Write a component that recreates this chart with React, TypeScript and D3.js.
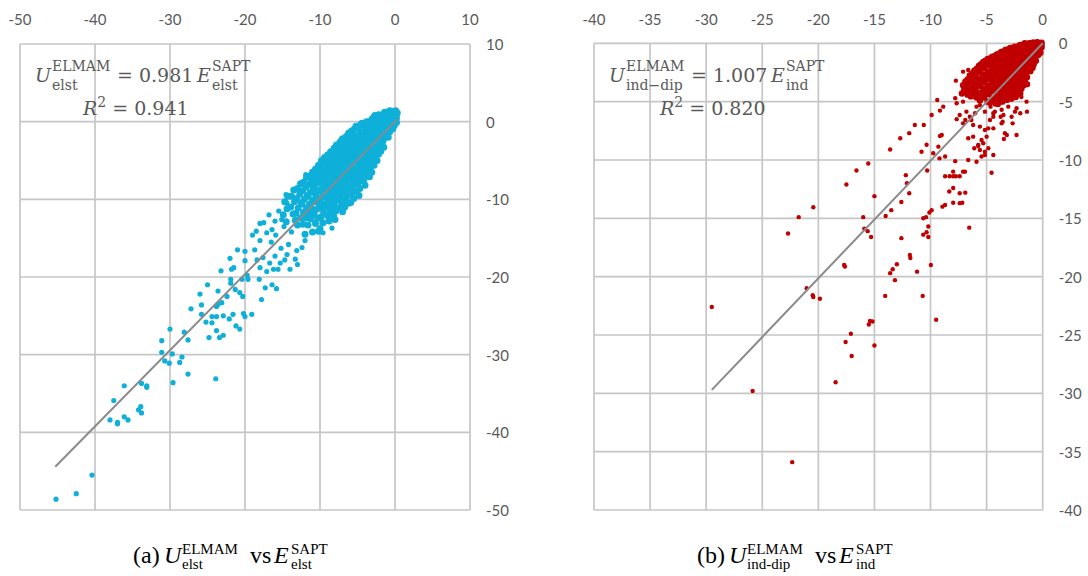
import React from 'react';
import * as d3 from 'd3';

// (a) electrostatics: E_SAPT (x) vs U_ELMAM (y), dense core
const elstCore: [number, number][] = [
  [0.3,1.1],[0.1,1.4],[0.2,0.5],[-0.1,0.9],[-0.3,1.3],[0,0.1],[-0.2,0.4],[-0.4,-0.3],[-0.5,0.8],[-0.1,-0.5],[0.2,-0.1],[-0.3,-0.9],
  [-0.7,1.4],[-0.9,1.0],[-0.6,0.5],[-1.1,0.3],[-0.8,-0.1],[-0.6,-0.6],[-1.0,-0.8],[-0.7,-1.3],[-1.2,-1.5],[-0.9,-2.0],[-1.1,1.2],[-0.8,0.8],[-1.2,-0.3],
  [-1.4,1.2],[-1.7,0.9],[-1.5,0.4],[-1.9,0.2],[-1.3,-0.2],[-1.6,-0.5],[-1.9,-0.9],[-1.4,-1.1],[-1.7,-1.6],[-1.3,-2.0],[-2.0,-2.0],[-1.6,-2.5],[-1.8,-3.0],[-1.5,-3.3],[-1.9,-3.8],[-2.0,0.8],[-1.8,-0.2],
  [-2.2,0.9],[-2.5,0.5],[-2.7,0.8],[-2.3,0.0],[-2.6,-0.4],[-2.2,-0.8],[-2.8,-1.0],[-2.4,-1.4],[-2.7,-1.9],[-2.2,-2.2],[-2.5,-2.6],[-2.8,-3.0],[-2.3,-3.3],[-2.6,-3.8],[-2.2,-4.2],[-2.7,-4.5],[-2.4,-5.0],[-2.8,-5.6],[-2.5,-0.1],
  [-3.0,0.4],[-3.3,0.1],[-3.5,-0.3],[-2.9,-0.5],[-3.2,-0.9],[-3.6,-1.1],[-3.0,-1.5],[-3.4,-1.8],[-3.1,-2.3],[-3.5,-2.6],[-2.9,-2.8],[-3.3,-3.2],[-3.6,-3.6],[-3.0,-3.9],[-3.4,-4.3],[-3.1,-4.8],[-3.5,-5.2],[-2.9,-5.4],[-3.3,-5.9],[-3.6,-6.4],[-3.1,-6.5],[-3.4,-7.1],
  [-3.8,0.0],[-4.1,-0.4],[-4.4,-0.2],[-3.7,-0.8],[-4.0,-1.2],[-4.3,-1.6],[-3.8,-1.9],[-4.2,-2.3],[-3.9,-2.7],[-4.4,-3.0],[-3.7,-3.3],[-4.1,-3.6],[-4.4,-4.1],[-3.8,-4.4],[-4.2,-4.8],[-3.9,-5.3],[-4.3,-5.7],[-3.7,-6.0],[-4.1,-6.4],[-4.4,-6.9],[-3.8,-7.1],[-4.2,-7.6],[-4.0,-8.2],
  [-4.6,-0.4],[-4.9,-0.8],[-5.2,-0.6],[-4.5,-1.3],[-4.8,-1.7],[-5.1,-2.1],[-4.6,-2.4],[-5.0,-2.8],[-4.7,-3.2],[-5.2,-3.5],[-4.5,-3.8],[-4.9,-4.2],[-5.2,-4.6],[-4.6,-4.9],[-5.0,-5.3],[-4.7,-5.8],[-5.1,-6.2],[-4.5,-6.5],[-4.9,-6.9],[-5.2,-7.3],[-4.6,-7.6],[-5.0,-8.1],[-4.7,-8.6],[-5.1,-9.0],[-4.8,-9.5],
  [-5.4,-0.9],[-5.8,-1.2],[-5.5,-1.7],[-5.9,-2.1],[-5.3,-2.4],[-5.7,-2.7],[-6.0,-3.1],[-5.4,-3.4],[-5.8,-3.8],[-5.5,-4.2],[-5.9,-4.6],[-5.3,-4.9],[-5.7,-5.3],[-6.0,-5.8],[-5.4,-6.1],[-5.8,-6.5],[-5.5,-7.0],[-5.9,-7.4],[-5.3,-7.7],[-5.7,-8.2],[-6.0,-8.6],[-5.4,-8.9],[-5.8,-9.4],[-5.5,-9.9],[-5.9,-10.4],
  [-6.2,-1.5],[-6.5,-1.9],[-6.8,-2.3],[-6.3,-2.6],[-6.6,-3.0],[-6.1,-3.4],[-6.7,-3.7],[-6.4,-4.1],[-6.8,-4.5],[-6.2,-4.8],[-6.5,-5.2],[-6.8,-5.6],[-6.3,-6.0],[-6.6,-6.4],[-6.1,-6.8],[-6.7,-7.1],[-6.4,-7.5],[-6.8,-7.9],[-6.2,-8.3],[-6.5,-8.7],[-6.8,-9.1],[-6.3,-9.5],[-6.6,-10.0],[-6.2,-10.5],[-6.7,-11.0],
  [-7.0,-2.2],[-7.3,-2.6],[-7.6,-3.0],[-7.1,-3.4],[-7.4,-3.8],[-6.9,-4.2],[-7.5,-4.5],[-7.2,-4.9],[-7.6,-5.3],[-7.0,-5.6],[-7.3,-6.0],[-7.6,-6.4],[-7.1,-6.8],[-7.4,-7.2],[-6.9,-7.6],[-7.5,-7.9],[-7.2,-8.3],[-7.6,-8.8],[-7.0,-9.1],[-7.3,-9.6],[-7.5,-10.1],[-7.1,-10.5],[-7.4,-11.1],[-7.0,-11.6],
  [-7.8,-3.0],[-8.1,-3.4],[-8.4,-3.8],[-7.9,-4.2],[-8.2,-4.6],[-7.7,-5.0],[-8.3,-5.4],[-8.0,-5.8],[-8.4,-6.2],[-7.8,-6.5],[-8.1,-6.9],[-8.4,-7.3],[-7.9,-7.7],[-8.2,-8.1],[-7.7,-8.5],[-8.3,-8.9],[-8.0,-9.3],[-8.4,-9.8],[-7.8,-10.1],[-8.1,-10.6],[-8.3,-11.1],[-7.9,-11.5],[-8.2,-12.1],[-8.0,-12.6],
  [-8.6,-3.9],[-9.0,-4.3],[-8.7,-4.8],[-9.1,-5.2],[-8.5,-5.6],[-8.9,-6.0],[-9.2,-6.4],[-8.6,-6.8],[-9.0,-7.2],[-8.7,-7.6],[-9.1,-8.0],[-8.5,-8.4],[-8.9,-8.8],[-9.2,-9.2],[-8.6,-9.6],[-9.0,-10.0],[-8.7,-10.5],[-9.1,-11.0],[-8.6,-11.5],[-9.0,-12.1],[-8.8,-12.8],
  [-9.4,-4.6],[-9.8,-5.0],[-9.5,-5.5],[-9.9,-6.0],[-9.3,-6.4],[-9.7,-6.8],[-10.0,-7.2],[-9.4,-7.6],[-9.8,-8.0],[-9.5,-8.5],[-9.9,-8.9],[-9.3,-9.3],[-9.7,-9.7],[-10.0,-10.2],[-9.4,-10.6],[-9.8,-11.1],[-9.5,-11.7],[-9.9,-12.3],[-9.6,-13.0],[-10.0,-13.8],
  [-10.2,-5.6],[-10.6,-6.1],[-10.3,-6.6],[-10.7,-7.1],[-10.1,-7.5],[-10.5,-7.9],[-10.8,-8.4],[-10.2,-8.8],[-10.6,-9.3],[-10.3,-9.8],[-10.7,-10.3],[-10.1,-10.8],[-10.5,-11.3],[-10.8,-11.9],[-10.3,-12.4],[-10.6,-13.1],[-10.2,-14.1],
  [-11.0,-6.5],[-11.4,-7.0],[-11.1,-7.6],[-11.5,-8.1],[-10.9,-8.6],[-11.3,-9.1],[-11.6,-9.6],[-11.0,-10.1],[-11.4,-10.6],[-11.1,-11.2],[-11.5,-11.8],[-11.2,-12.5],[-11.6,-13.3],[-11.0,-14.2],
  [-11.8,-7.2],[-12.2,-7.8],[-11.9,-8.4],[-12.3,-8.9],[-11.7,-9.5],[-12.1,-10.0],[-12.4,-10.6],[-11.8,-11.1],[-12.2,-11.7],[-11.9,-12.4],[-12.3,-13.2],[-12.0,-14.5],
  [-12.6,-8.0],[-13.0,-8.6],[-12.7,-9.3],[-13.1,-9.9],[-12.5,-10.5],[-12.9,-11.1],[-13.2,-11.8],[-12.6,-12.4],[-13.0,-13.3],
  [-13.5,-8.8],[-13.8,-9.6],[-13.4,-10.3],[-13.9,-11.0],[-13.6,-11.9],[-13.3,-12.7],
  [-14.3,-9.6],[-14.7,-10.3],[-14.4,-11.2],[-14.9,-12.0],[-14.5,-12.9],
];

const elstOuter: [number, number][] = [
  [-14.53,-9.4],[-13.33,-8.75],[-18,-13.1],[-19.0,-14.6],[-18.5,-14.1],[-18,-15.3],[-17.1,-14.3],[-16.4,-13.9],[-21.0,-16.5],[-20,-16.7],
  [-22,-17.6],[-20,-17.9],[-18.7,-16.5],[-18.4,-17.8],[-17.6,-17.5],[-16.7,-18.2],[-16,-17.3],[-15.3,-18.2],[-14.7,-17.8],[-18,-18.8],
  [-17.1,-19.3],[-16.2,-19.0],[-15.6,-19.0],[-14,-19.0],[-13,-18.4],[-13.3,-17.7],[-14.4,-17.1],[-23.2,-19.2],[-21.8,-19.0],[-21.5,-18.8],
  [-21.9,-20.3],[-21.9,-20.8],[-20.4,-20.3],[-19.7,-19.8],[-19.6,-20.3],[-18.1,-20.3],[-17.3,-21.4],[-16.4,-21.0],[-15.8,-21.5],[-21.3,-21.6],
  [-20.7,-22.0],[-20.3,-22.5],[-22.4,-22.5],[-23.6,-21.8],[-25,-21.0],[-26,-22.2],[-23.6,-23.5],[-23.1,-23.3],[-25.8,-23.6],[-25.8,-24.8],
  [-27.2,-24.1],[-23.8,-23.8],[-24.4,-25.1],[-23.8,-25.1],[-25.2,-25.8],[-24.4,-25.9],[-22.9,-25.0],[-22.1,-25.4],[-21.6,-24.8],[-20.2,-24.7],
  [-20,-25.1],[-19.1,-24.8],[-17.8,-22.9],[-21.2,-26.3],[-20.7,-26.7],[-23.8,-26.9],[-22.9,-27.5],[-23.4,-27.8],[-24.8,-27.8],[-27.6,-28.1],
  [-28.1,-27.1],[-30,-26.7],[-31.1,-28.2],[-31.1,-29.7],[-29.7,-29.9],[-28.7,-31.0],[-28.4,-30.3],[-30.7,-30.8],[-30.1,-31.1],[-27.6,-32.5],
  [-29.6,-33.6],[-23.9,-33.1],[-36.1,-34.0],[-33.8,-33.7],[-33.1,-34.0],[-33.1,-34.2],[-37.5,-35.9],[-38,-38.4],[-37,-38.7],[-37,-38.9],
  [-36.1,-38.0],[-35.6,-38.4],[-34.2,-37.1],[-33.9,-36.7],[-33.8,-37.5],[-40.4,-45.5],[-42.5,-47.9],[-45.2,-48.6],
  [-11.9,-6.8],[-14.4,-10.5],[-16,-12.8],[-15.1,-12.6],[-8.4,-13.7],[-6.9,-11.2],[-9.6,-14.3],[-12,-15.3],
  [-15.5,-11.5],[-14.8,-13.5],[-13.8,-14.2],[-16.8,-12.0],[-17.5,-13.0],[-15.9,-14.6],[-14.2,-15.8],[-13.1,-16.6],[-12.4,-16.2],[-16.5,-15.5],[-15.2,-16.3],
];

// (b) induction: E_SAPT (x) vs U_ELMAM ind-dip (y)
const indCore: [number, number][] = [
  [-0.1,0.05],[-0.3,-0.1],[-0.1,-0.35],[-0.3,-0.55],[-0.2,-0.8],[-0.4,-1.0],[-0.1,-0.15],[-0.4,0.05],
  [-0.5,0.1],[-0.7,-0.1],[-0.6,-0.4],[-0.8,-0.7],[-0.5,-0.9],[-0.7,-1.2],[-0.6,-1.5],[-0.8,-1.8],[-0.8,0.05],[-0.5,-0.25],
  [-0.9,0.05],[-1.1,-0.15],[-1.0,-0.45],[-1.2,-0.7],[-0.9,-1.0],[-1.1,-1.3],[-1.0,-1.6],[-1.2,-1.9],[-0.9,-2.1],[-1.1,-2.4],[-1.2,0.0],[-0.95,-0.6],
  [-1.3,-0.05],[-1.5,-0.25],[-1.4,-0.55],[-1.6,-0.8],[-1.3,-1.1],[-1.5,-1.4],[-1.4,-1.7],[-1.6,-2.0],[-1.3,-2.3],[-1.5,-2.6],[-1.4,-2.9],[-1.6,-3.2],[-1.4,-3.5],[-1.6,0.0],
  [-1.7,-0.1],[-1.9,-0.3],[-1.8,-0.6],[-2.0,-0.9],[-1.7,-1.2],[-1.9,-1.5],[-1.8,-1.8],[-2.0,-2.1],[-1.7,-2.4],[-1.9,-2.7],[-1.8,-3.0],[-2.0,-3.3],[-1.7,-3.6],[-1.9,-3.9],[-2.0,-4.3],[-2.0,-0.15],
  [-2.1,-0.2],[-2.3,-0.35],[-2.2,-0.65],[-2.4,-0.95],[-2.1,-1.25],[-2.3,-1.55],[-2.2,-1.85],[-2.4,-2.15],[-2.1,-2.45],[-2.3,-2.75],[-2.2,-3.05],[-2.4,-3.35],[-2.1,-3.65],[-2.3,-3.95],[-2.2,-4.3],[-2.4,-4.6],
  [-2.5,-0.3],[-2.7,-0.45],[-2.6,-0.75],[-2.8,-1.05],[-2.5,-1.35],[-2.7,-1.65],[-2.6,-1.95],[-2.8,-2.25],[-2.5,-2.55],[-2.7,-2.85],[-2.6,-3.15],[-2.8,-3.45],[-2.5,-3.75],[-2.7,-4.05],[-2.6,-4.4],[-2.8,-4.75],
  [-2.9,-0.4],[-3.1,-0.55],[-3.0,-0.85],[-3.2,-1.15],[-2.9,-1.45],[-3.1,-1.75],[-3.0,-2.05],[-3.2,-2.35],[-2.9,-2.65],[-3.1,-2.95],[-3.0,-3.25],[-3.2,-3.55],[-2.9,-3.85],[-3.1,-4.15],[-3.0,-4.5],[-3.2,-4.85],
  [-3.3,-0.55],[-3.5,-0.7],[-3.4,-1.0],[-3.6,-1.3],[-3.3,-1.6],[-3.5,-1.9],[-3.4,-2.2],[-3.6,-2.5],[-3.3,-2.8],[-3.5,-3.1],[-3.4,-3.4],[-3.6,-3.7],[-3.3,-4.0],[-3.5,-4.3],[-3.4,-4.65],[-3.6,-5.0],
  [-3.7,-0.75],[-3.9,-0.9],[-3.8,-1.2],[-4.0,-1.5],[-3.7,-1.8],[-3.9,-2.1],[-3.8,-2.4],[-4.0,-2.7],[-3.7,-3.0],[-3.9,-3.3],[-3.8,-3.6],[-4.0,-3.9],[-3.7,-4.2],[-3.9,-4.55],[-3.8,-4.9],[-4.0,-5.2],
  [-4.1,-0.95],[-4.3,-1.1],[-4.2,-1.4],[-4.4,-1.7],[-4.1,-2.0],[-4.3,-2.3],[-4.2,-2.6],[-4.4,-2.9],[-4.1,-3.2],[-4.3,-3.5],[-4.2,-3.8],[-4.4,-4.1],[-4.1,-4.45],[-4.3,-4.8],[-4.2,-5.15],
  [-4.5,-1.15],[-4.7,-1.3],[-4.6,-1.6],[-4.8,-1.9],[-4.5,-2.2],[-4.7,-2.5],[-4.6,-2.8],[-4.8,-3.1],[-4.5,-3.4],[-4.7,-3.7],[-4.6,-4.0],[-4.8,-4.35],[-4.5,-4.7],[-4.7,-5.1],
  [-4.9,-1.35],[-5.1,-1.5],[-5.0,-1.85],[-5.2,-2.15],[-4.9,-2.45],[-5.1,-2.75],[-5.0,-3.05],[-5.2,-3.35],[-4.9,-3.65],[-5.1,-3.95],[-5.0,-4.3],[-5.2,-4.65],[-4.9,-5.0],
  [-5.3,-1.6],[-5.5,-1.8],[-5.4,-2.1],[-5.6,-2.4],[-5.3,-2.7],[-5.5,-3.0],[-5.4,-3.3],[-5.6,-3.6],[-5.3,-3.9],[-5.5,-4.25],[-5.4,-4.6],[-5.6,-4.9],
  [-5.7,-1.95],[-5.9,-2.2],[-5.8,-2.5],[-6.0,-2.8],[-5.7,-3.1],[-5.9,-3.4],[-5.8,-3.7],[-6.0,-4.0],[-5.7,-4.3],[-5.9,-4.65],
  [-6.1,-2.35],[-6.3,-2.6],[-6.2,-2.95],[-6.4,-3.3],[-6.1,-3.6],[-6.3,-3.9],[-6.2,-4.25],[-6.4,-4.55],
  [-6.5,-2.75],[-6.7,-3.1],[-6.6,-3.45],[-6.8,-3.8],[-6.5,-4.1],[-6.7,-4.4],
  [-6.9,-3.3],[-7.1,-3.6],[-7.0,-4.0],[-7.2,-4.3],
];

const indOuter: [number, number][] = [
  [-7.74,-3.2],[-7.1,-2.43],[-6.64,-2.29],[-5.9,-2.23],[-9.4,-4.86],[-9.16,-5.77],[-9.9,-6.14],[-11.4,-7.0],[-10.6,-7.0],[-11.9,-7.7],
  [-12.7,-8.14],[-9.16,-7.94],[-10.35,-8.7],[-10.8,-9.3],[-13.6,-9.1],[-9.3,-8.86],[-9.76,-9.43],[-9.2,-9.86],[-8.7,-9.7],[-10.3,-10.9],
  [-12.2,-11.3],[-15.55,-10.3],[-16.6,-10.9],[-12.1,-12.0],[-11.9,-12.85],[-12.6,-13.6],[-13.5,-14.3],[-14.0,-14.8],[-15.0,-13.1],[-16.0,-14.9],
  [-17.5,-12.1],[-20.45,-14.05],[-21.75,-14.9],[-22.7,-16.3],[-15.9,-15.9],[-15.6,-16.1],[-15.3,-16.6],[-12.6,-16.7],[-10.65,-15.0],[-10.4,-14.9],
  [-10.1,-14.5],[-9.9,-14.3],[-10.65,-16.4],[-10.2,-16.6],[-10.2,-15.7],[-10.35,-16.2],[-6.55,-15.8],[-8.94,-14.0],[-8.7,-13.86],[-7.98,-13.66],
  [-7.4,-13.7],[-7.17,-13.66],[-6.9,-12.8],[-7.4,-12.85],[-8.33,-12.7],[-7.98,-12.4],[-7.98,-11.4],[-7.74,-11.4],[-7.1,-11.0],[-7.4,-11.4],
  [-8.3,-11.4],[-8.7,-11.4],[-7.98,-11.0],[-6.93,-11.0],[-4.56,-11.1],[-7.8,-10.1],[-6.64,-10.0],[-5.9,-10.15],[-5.45,-9.7],[-5.15,-9.57],
  [-4.4,-9.57],[-6.1,-9.0],[-5.75,-8.8],[-5.3,-8.57],[-4.85,-9.0],[-5.15,-9.3],[-6.64,-8.14],[-6.2,-8.0],[-5.0,-8.0],[-3.46,-8.2],
  [-3.37,-7.7],[-5.15,-7.43],[-4.86,-7.29],[-5.6,-7.14],[-6.2,-7.0],[-6.9,-6.57],[-7.67,-6.5],[-7.4,-6.14],[-6.8,-5.86],[-6.03,-6.0],
  [-4.26,-5.86],[-3.75,-6.29],[-3.57,-6.72],[-2.68,-6.86],[-2.47,-5.86],[-4.4,-6.29],[-4.65,-5.43],[-5.9,-5.43],
  [-21.04,-21.0],[-20.5,-21.6],[-20.45,-21.75],[-19.86,-21.9],[-29.5,-22.6],[-14.04,-21.65],[-10.7,-21.65],[-9.5,-23.7],[-15.4,-23.8],[-15.17,-23.85],
  [-15.5,-24.1],[-17.1,-24.9],[-17.57,-25.6],[-15.0,-25.9],[-17.03,-26.8],[-18.46,-29.05],[-25.86,-29.8],[-22.33,-35.9],
  [-13.6,-19.7],[-13.37,-19.37],[-13.0,-18.94],[-13.17,-20.3],[-11.84,-18.14],[-11.8,-18.4],[-11.2,-19.57],[-9.97,-19.0],[-17.7,-19.0],[-17.63,-19.14],
  [-7.8,-4.7],[-7.67,-5.14],[-7.1,-5.0],[-6.8,-4.28],[-6.36,-3.86],[-5.9,-4.43],[-5.6,-5.3],[-5.15,-5.86],[-4.4,-6.0],[-3.66,-5.7],
  [-3.07,-5.43],[-2.33,-5.57],[-1.44,-5.0],[-1.9,-4.6],[-3.5,-6.14],[-6.36,-6.57],[-8.87,-5.43],[-9.0,-7.86],[-7.1,-6.86],[-6.5,-6.29],
  [-4.7,-6.57],[-4.4,-7.29],[-3.66,-6.86],[-2.77,-6.29],[-2.0,-6.0],[-1.4,-5.86],[-3.2,-7.86],[-2.33,-7.86],[-5.45,-8.29],[-5.75,-8.71],[-5.6,-9.14],
];

const elstTicks = [-50, -40, -30, -20, -10, 0, 10];
const indTicks = [-40, -35, -30, -25, -20, -15, -10, -5, 0];

const elstFit = { slope: 0.981, from: -45.3, to: 0.3 };
const indFit = { slope: 1.007, from: -29.5, to: 0 };

const GRID = '#c6c6c6';
const LABEL = '#595959';
const TICK_FONT = 'Lato, "Open Sans", sans-serif';
const EQ_FONT = '"DejaVu Serif", serif';
const CAP_FONT = '"Liberation Serif", serif';

type Fit = { slope: number; from: number; to: number };

function Panel(props: {
  left: number; right: number; top: number; bottom: number;
  domain: [number, number]; ticks: number[];
  outer: [number, number][]; core: [number, number][];
  color: string; radius: number; coreRadius: number; fit: Fit;
}) {
  const { left, right, top, bottom, domain, ticks, outer, core, color, radius, coreRadius, fit } = props;
  const x = d3.scaleLinear().domain(domain).range([left, right]);
  const y = d3.scaleLinear().domain(domain).range([bottom, top]);
  const fitLine = d3.line<number>().x((d) => x(d)).y((d) => y(d * fit.slope));

  return (
    <g>
      {ticks.map((t) => (
        <line key={'v' + t} x1={x(t)} x2={x(t)} y1={top} y2={bottom} stroke={GRID} strokeWidth={1.7} />
      ))}
      {ticks.map((t) => (
        <line key={'h' + t} x1={left} x2={right} y1={y(t)} y2={y(t)} stroke={GRID} strokeWidth={1.7} />
      ))}
      {ticks.map((t) => (
        <text key={'tx' + t} x={x(t)} y={25} textAnchor="middle" fontFamily={TICK_FONT} fontSize={15} fill={LABEL}>
          {String(t)}
        </text>
      ))}
      {ticks.map((t) => (
        <text key={'ty' + t} x={right + 16} y={y(t)} dominantBaseline="central" fontFamily={TICK_FONT} fontSize={15} fill={LABEL}>
          {String(t)}
        </text>
      ))}
      {outer.map(([a, b], i) => (
        <circle key={'o' + i} cx={x(a)} cy={y(b)} r={radius} fill={color} />
      ))}
      {core.map(([a, b], i) => (
        <circle key={'c' + i} cx={x(a)} cy={y(b)} r={coreRadius} fill={color} />
      ))}
      <path d={fitLine([fit.from, fit.to]) ?? ''} stroke="#8a8a8a" strokeWidth={2} fill="none" />
    </g>
  );
}

// symbol with stacked superscript / subscript
function Sym(props: {
  x: number; y: number; base: string; sup: string; sub: string;
  size: number; script: number; font: string; fill: string; gap: number; supUp: number; subDown: number;
}) {
  const { x, y, base, sup, sub, size, script, font, fill, gap, supUp, subDown } = props;
  return (
    <g fontFamily={font} fill={fill}>
      <text x={x} y={y} fontSize={size} fontStyle="italic">{base}</text>
      <text x={x + gap} y={y - supUp} fontSize={script}>{sup}</text>
      <text x={x + gap} y={y + subDown} fontSize={script}>{sub}</text>
    </g>
  );
}

export default function App() {
  const eq = { size: 19, script: 14, font: EQ_FONT, fill: LABEL, gap: 17, supUp: 11, subDown: 8 };
  const cap = { size: 24, script: 15, font: CAP_FONT, fill: '#000', gap: 18, supUp: 9, subDown: 6 };
  return (
    <div style={{ position: 'absolute', left: 0, top: 0 }}>
      <svg width={1088} height={576} style={{ display: 'block', background: '#fff' }}>
        <Panel left={20} right={470} top={44} bottom={510} domain={[-50, 10]} ticks={elstTicks}
          outer={elstOuter} core={elstCore} color="#0eb0d9" radius={2.6} coreRadius={3.5} fit={elstFit} />
        <Panel left={594} right={1042.7} top={43.3} bottom={510} domain={[-40, 0]} ticks={indTicks}
          outer={indOuter} core={indCore} color="#c00000" radius={2.2} coreRadius={3.2} fit={indFit} />

        {/* fit equations */}
        <Sym x={35} y={82} base="U" sup="ELMAM" sub="elst" {...eq} />
        <text x={117} y={82} fontFamily={EQ_FONT} fontSize={19} fill={LABEL}>= 0.981</text>
        <Sym x={197} y={82} base="E" sup="SAPT" sub="elst" {...eq} gap={15} />
        <text x={83} y={115} fontFamily={EQ_FONT} fontSize={19} fill={LABEL}>
          <tspan fontStyle="italic">R</tspan>
          <tspan fontSize={14} dy={-8}>2</tspan>
          <tspan dy={8}> = 0.941</tspan>
        </text>

        <Sym x={609} y={82} base="U" sup="ELMAM" sub="ind−dip" {...eq} />
        <text x={691} y={82} fontFamily={EQ_FONT} fontSize={19} fill={LABEL}>= 1.007</text>
        <Sym x={771} y={82} base="E" sup="SAPT" sub="ind" {...eq} gap={15} />
        <text x={660} y={115} fontFamily={EQ_FONT} fontSize={19} fill={LABEL}>
          <tspan fontStyle="italic">R</tspan>
          <tspan fontSize={14} dy={-8}>2</tspan>
          <tspan dy={8}> = 0.820</tspan>
        </text>

        {/* sub-captions */}
        <text x={133} y={563} fontFamily={CAP_FONT} fontSize={24}>(a)</text>
        <Sym x={164} y={563} base="U" sup="ELMAM" sub="elst" {...cap} />
        <text x={250} y={563} fontFamily={CAP_FONT} fontSize={24}>vs</text>
        <Sym x={274} y={563} base="E" sup="SAPT" sub="elst" {...cap} gap={17} />

        <text x={697} y={563} fontFamily={CAP_FONT} fontSize={24}>(b)</text>
        <Sym x={729} y={563} base="U" sup="ELMAM" sub="ind-dip" {...cap} />
        <text x={815} y={563} fontFamily={CAP_FONT} fontSize={24}>vs</text>
        <Sym x={839} y={563} base="E" sup="SAPT" sub="ind" {...cap} gap={17} />
      </svg>
    </div>
  );
}
